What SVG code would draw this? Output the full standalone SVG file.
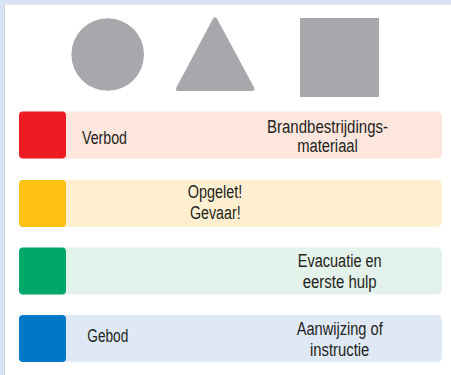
<svg xmlns="http://www.w3.org/2000/svg" width="451" height="375" viewBox="0 0 451 375">
<style>
.shape{fill:#a7a8ab}
.t{font-family:"Liberation Sans",Arial,sans-serif;font-size:17.6px;fill:#231f20}
.m{text-anchor:middle}
.sq{rx:4;ry:4}
.bg{rx:5;ry:5}
</style>
<rect x="0" y="0" width="451" height="375" fill="#ffffff"/>
<rect x="0" y="0" width="451" height="3.5" fill="#d6e4f4"/>
<rect x="0" y="0" width="4" height="375" fill="#d6e4f4"/>
<line x1="4.5" y1="4" x2="451" y2="4" stroke="#d0d3d8" stroke-width="1"/>
<line x1="4.5" y1="4" x2="4.5" y2="375" stroke="#d0d3d8" stroke-width="1"/>
<g id="shapes">
<circle class="shape" cx="107.7" cy="54.5" r="36.3"/>
<path class="shape" d="M212.8,19 Q215,15.5 217.2,19 L254.2,87.8 Q255.5,91 252,91 L178.5,91 Q175,91 176.3,87.8 Z"/>
<rect class="shape" x="300" y="18" width="79" height="79"/>
</g>
<g id="row-verbod">
<rect class="bg" x="19" y="111.5" width="423" height="47" fill="#fde6dd"/>
<rect class="sq" x="19" y="111.5" width="47" height="47" fill="#ed1c24"/>
<text class="t" x="82" y="144" textLength="45" lengthAdjust="spacingAndGlyphs">Verbod</text>
<text class="t m" x="327.5" y="133" textLength="121" lengthAdjust="spacingAndGlyphs">Brandbestrijdings-</text>
<text class="t m" x="327.5" y="152" textLength="60.7" lengthAdjust="spacingAndGlyphs">materiaal</text>
</g>
<g id="row-opgelet">
<rect class="bg" x="19" y="180" width="423" height="47" fill="#feefd1"/>
<rect class="sq" x="19" y="180" width="47" height="47" fill="#fec312"/>
<text class="t m" x="215" y="198" textLength="54.7" lengthAdjust="spacingAndGlyphs">Opgelet!</text>
<text class="t m" x="215.3" y="218.5" textLength="50.7" lengthAdjust="spacingAndGlyphs">Gevaar!</text>
</g>
<g id="row-evacuatie">
<rect class="bg" x="19" y="247.5" width="423" height="47" fill="#e3f2ea"/>
<rect class="sq" x="19" y="247.5" width="47" height="47" fill="#00a76a"/>
<text class="t m" x="339.7" y="267" textLength="84" lengthAdjust="spacingAndGlyphs">Evacuatie en</text>
<text class="t m" x="339.7" y="287.5" textLength="74" lengthAdjust="spacingAndGlyphs">eerste hulp</text>
</g>
<g id="row-gebod">
<rect class="bg" x="19" y="315" width="423" height="47" fill="#dfe8f5"/>
<rect class="sq" x="19" y="315" width="47" height="47" fill="#0077c8"/>
<text class="t" x="87.3" y="342" textLength="41" lengthAdjust="spacingAndGlyphs">Gebod</text>
<text class="t m" x="339.7" y="334.5" textLength="86" lengthAdjust="spacingAndGlyphs">Aanwijzing of</text>
<text class="t m" x="339.7" y="356" textLength="59.3" lengthAdjust="spacingAndGlyphs">instructie</text>
</g>
<g id="connectors"></g>
</svg>
